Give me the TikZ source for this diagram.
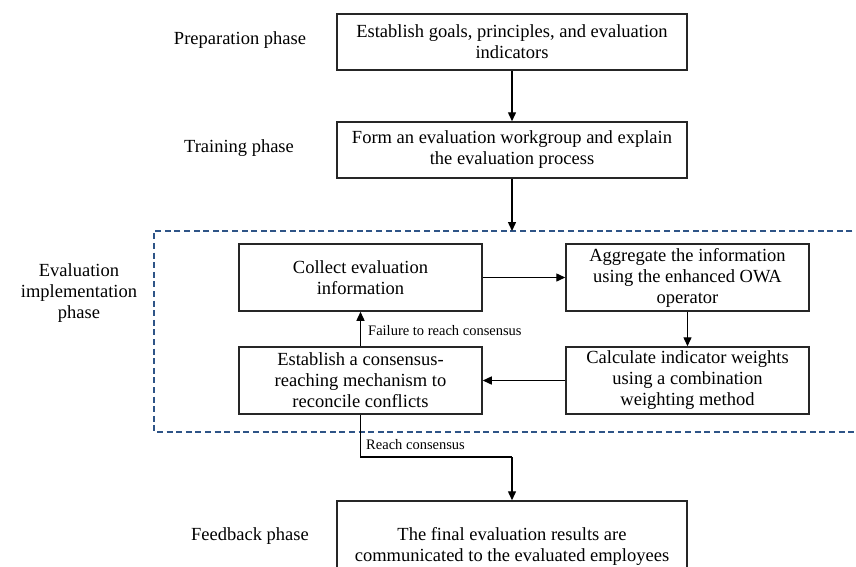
\documentclass[tikz,border=0pt]{standalone}
\usepackage{fontspec}
\setmainfont{Liberation Serif}
\usetikzlibrary{arrows.meta}
\definecolor{dashblue}{RGB}{46,84,135}
\tikzset{
  boxnode/.style={draw=black!85, line width=1.5pt, align=center, inner sep=0pt,
    font=\fontsize{18.5}{21}\selectfont},
  phase/.style={align=center, inner sep=0pt, font=\fontsize{18.5}{21}\selectfont},
  edgelabel/.style={anchor=west, inner sep=0pt, font=\fontsize{14.5}{16}\selectfont},
  conn/.style={line width=1.4pt, -{Triangle[length=9pt,width=8pt]}},
  plainconn/.style={line width=1.4pt},
  phasebox/.style={draw=dashblue, line width=1.5pt, dash pattern=on 6pt off 3.6pt}
}
\begin{document}
\begin{tikzpicture}[x=1pt,y=-1pt]
\useasboundingbox (0,0) rectangle (856,566);
\clip (0,0) rectangle (856,566);
\fill[white] (0,0) rectangle (856,566);

% phase frame
\draw[phasebox] (862,231) -- (154,231) -- (154,432) -- (862,432);

% boxes
\node[boxnode, minimum width=350pt, minimum height=56pt] (goals) at (512,42)
  {Establish goals, principles, and evaluation\\indicators};
\node[boxnode, minimum width=350pt, minimum height=56pt] (train) at (512,150)
  {Form an evaluation workgroup and explain\\the evaluation process};
\node[boxnode, minimum width=243pt, minimum height=67pt] (collect) at (360.5,277.5)
  {Collect evaluation\\information};
\node[boxnode, minimum width=243pt, minimum height=67pt] (aggr) at (687.5,277.5)
  {Aggregate the information\\using the enhanced OWA\\operator};
\node[boxnode, minimum width=243pt, minimum height=67pt] (calc) at (687.5,380.5)
  {Calculate indicator weights\\using a combination\\weighting method};
\node[boxnode, minimum width=243pt, minimum height=67pt] (cons) at (360.5,380.5)
  {Establish a consensus-\\reaching mechanism to\\reconcile conflicts};
\node[boxnode, minimum width=350pt, minimum height=90pt] (final) at (512,546)
  {The final evaluation results are\\communicated to the evaluated employees};

% phase labels
\node[phase] (p1) at (240,40) {Preparation phase};
\node[phase] (p2) at (239,148) {Training phase};
\node[phase] (p3) at (79,293) {Evaluation\\implementation\\phase};
\node[phase] (p4) at (250,536) {Feedback phase};

% connectors
\coordinate (frametop) at (512,231);
\coordinate (turn) at (512,457);
\draw[conn] (goals) -- (train);
\draw[conn] (train) -- (frametop);
\draw[conn] (collect) -- (aggr);
\draw[conn] (aggr) -- (calc);
\draw[conn] (calc) -- (cons);
\draw[conn] (cons) -- (collect);
\draw[plainconn] (cons.south) |- (turn);
\draw[conn] (turn) -- (final.north);

% edge labels
\node[edgelabel] (fail) at (368,331) {Failure to reach consensus};
\node[edgelabel] (reach) at (366,445) {Reach consensus};
\end{tikzpicture}
\end{document}
